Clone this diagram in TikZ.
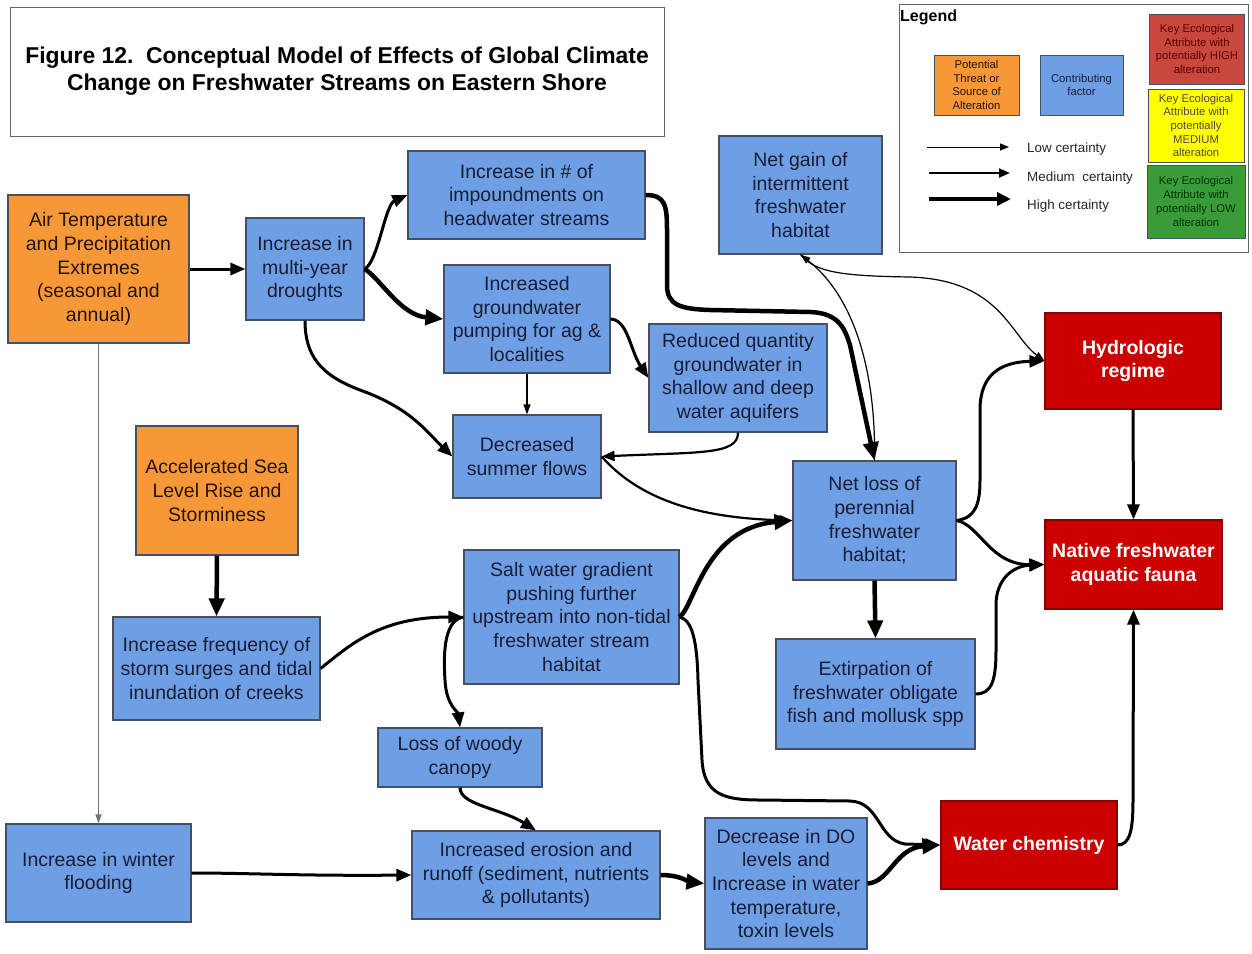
\documentclass[tikz,border=0pt]{standalone}
\usepackage{fontspec}
\setmainfont{Liberation Sans}
\usetikzlibrary{arrows.meta}
\definecolor{orng}{RGB}{247,152,56}
\definecolor{blu}{RGB}{110,158,228}
\definecolor{rd}{RGB}{204,0,0}
\definecolor{lred}{RGB}{200,72,62}
\definecolor{yel}{RGB}{255,255,0}
\definecolor{grn}{RGB}{58,155,58}
\definecolor{bluetext}{RGB}{25,30,55}
\definecolor{edgegray}{RGB}{70,80,95}
\tikzset{
 base/.style={draw=edgegray, line width=1.2pt, align=center, inner sep=0pt, font=\fontsize{19.5}{23.7}\selectfont},
 bluebox/.style={base, fill=blu, text=bluetext},
 orbox/.style={base, fill=orng, text=black!85!orange},
 redbox/.style={base, fill=rd, draw=rd!65!black, text=white, font=\fontsize{19.5}{23.7}\selectfont\bfseries},
 lbox/.style={draw=edgegray, line width=1pt, align=center, inner sep=0pt, font=\fontsize{11.3}{13.7}\selectfont},
 frame/.style={draw=black!60, line width=1pt, inner sep=0pt},
 wlow/.style={draw=black, line width=1.2pt, -{Triangle[length=10pt,width=7pt]}},
 wgray/.style={draw=black!55, line width=1pt, -{Triangle[length=9pt,width=6pt]}},
 wmed/.style={draw=black, line width=2.2pt, -{Triangle[length=13pt,width=10pt]}},
 wmt/.style={draw=black, line width=3pt, -{Triangle[length=15pt,width=12pt]}},
 whigh/.style={draw=black, line width=4.5pt, -{Triangle[length=18pt,width=15pt]}},
 legtext/.style={anchor=west, inner sep=0pt, font=\fontsize{13.4}{15}\selectfont, text=black!85},
}
\begin{document}
\begin{tikzpicture}[x=1pt,y=-1pt]
\useasboundingbox (0,0) rectangle (1252,953);
\fill[white] (0,0) rectangle (1252,953);

% title
\node[frame, minimum width=654pt, minimum height=129pt, align=center,
  font=\fontsize{22.9}{27}\selectfont\bfseries] (title) at (337,71.5)
  {Figure 12.\ \ Conceptual Model of Effects of Global Climate\\Change on Freshwater Streams on Eastern Shore};

% legend
\node[frame, minimum width=349pt, minimum height=248pt] (legend) at (1073.5,128) {};
\node[anchor=west, inner sep=0pt, font=\fontsize{16}{18}\selectfont\bfseries] (legendtitle) at (900,17) {Legend};
\node[lbox, fill=orng, text=black!85!orange, minimum width=85pt, minimum height=60pt] (lorange) at (976.5,85) {Potential\\Threat or\\Source of\\Alteration};
\node[lbox, fill=blu, text=bluetext, minimum width=83pt, minimum height=60pt] (lblue) at (1081.5,85) {Contributing\\factor};
\node[lbox, fill=lred, text=red!35!black, minimum width=95pt, minimum height=70pt] (lred) at (1197,49) {Key Ecological\\Attribute with\\potentially HIGH\\alteration};
\node[lbox, fill=yel, text=black!80!yellow, minimum width=96pt, minimum height=73pt] (lyellow) at (1196,125.5) {Key Ecological\\Attribute with\\potentially\\MEDIUM\\alteration};
\node[lbox, fill=grn, text=green!20!black, minimum width=98pt, minimum height=73pt] (lgreen) at (1196,201.5) {Key Ecological\\Attribute with\\potentially LOW\\alteration};
\coordinate (la1) at (927,147); \coordinate (la2) at (1009,147);
\coordinate (lb1) at (929,173); \coordinate (lb2) at (1010,173);
\coordinate (lc1) at (929,199); \coordinate (lc2) at (1011,199);
\draw[line width=1pt, -{Triangle[length=9pt,width=7pt]}] (la1) -- (la2);
\draw[line width=1.8pt, -{Triangle[length=11pt,width=9pt]}] (lb1) -- (lb2);
\draw[line width=3.5pt, -{Triangle[length=14pt,width=13pt]}] (lc1) -- (lc2);
\node[legtext] (llow) at (1027,149) {Low certainty};
\node[legtext] (lmed) at (1027,178) {Medium\ \ certainty};
\node[legtext] (lhigh) at (1027,206) {High certainty};

% nodes
\node[orbox, minimum width=181pt, minimum height=148pt] (air) at (98.5,269) {Air Temperature\\and Precipitation\\Extremes\\(seasonal and\\annual)};
\node[bluebox, minimum width=118pt, minimum height=102pt] (drought) at (305,269) {Increase in\\multi-year\\droughts};
\node[bluebox, minimum width=237pt, minimum height=88pt] (impound) at (526.5,195) {Increase in \# of\\impoundments on\\headwater streams};
\node[bluebox, minimum width=163pt, minimum height=118pt] (netgain) at (800.5,195) {Net gain of\\intermittent\\freshwater\\habitat};
\node[bluebox, minimum width=166pt, minimum height=108pt] (pump) at (527,319) {Increased\\groundwater\\pumping for ag \&\\localities};
\node[bluebox, minimum width=178pt, minimum height=108pt] (reduced) at (738,378) {Reduced quantity\\groundwater in\\shallow and deep\\water aquifers};
\node[bluebox, minimum width=148pt, minimum height=83pt] (summer) at (527,456.5) {Decreased\\summer flows};
\node[orbox, minimum width=162pt, minimum height=129pt] (sea) at (217,490.5) {Accelerated Sea\\Level Rise and\\Storminess};
\node[redbox, minimum width=176pt, minimum height=96pt] (hydro) at (1133,361) {Hydrologic\\regime};
\node[bluebox, minimum width=163pt, minimum height=119pt] (netloss) at (874.5,520.5) {Net loss of\\perennial\\freshwater\\habitat;};
\node[redbox, minimum width=177pt, minimum height=89pt] (native) at (1133.5,564.5) {Native freshwater\\aquatic fauna};
\node[bluebox, minimum width=215pt, minimum height=134pt] (salt) at (571.5,617) {Salt water gradient\\pushing further\\upstream into non-tidal\\freshwater stream\\habitat};
\node[bluebox, minimum width=207pt, minimum height=103pt] (storm) at (216.5,668.5) {Increase frequency of\\storm surges and tidal\\inundation of creeks};
\node[bluebox, minimum width=199pt, minimum height=110pt] (extirp) at (875.5,694) {Extirpation of\\freshwater obligate\\fish and mollusk spp};
\node[bluebox, minimum width=164pt, minimum height=59pt] (woody) at (460,757.5) {Loss of woody\\canopy};
\node[bluebox, minimum width=185pt, minimum height=98pt] (winter) at (98.5,873) {Increase in winter\\flooding};
\node[bluebox, minimum width=248pt, minimum height=88pt] (erosion) at (536,875) {Increased erosion and\\runoff (sediment, nutrients\\\& pollutants)};
\node[bluebox, minimum width=162pt, minimum height=131pt] (dobox) at (786,883.5) {Decrease in DO\\levels and\\Increase in water\\temperature,\\toxin levels};
\node[redbox, minimum width=176pt, minimum height=88pt] (wchem) at (1029,845) {Water chemistry};

% connectors
\draw[wmt] (air.east) -- (drought.west);
\draw[wmt] (drought.east) .. controls (378,262) and (385,205) .. (impound.west);
\draw[whigh] (drought.east) .. controls (380,278) and (400,315) .. (pump.west);
\draw[wmt] (drought.south) .. controls (305,355) and (320,375) .. (360,390) .. controls (410,408) and (425,430) .. (summer.west);
\draw[whigh] (impound.east) .. controls (665,195) and (667,205) .. (667,230) -- (667,285) .. controls (667,305) and (680,309) .. (710,310) -- (810,312) .. controls (840,313) and (845,330) .. (850,345) -- (netloss.north);
\draw[wlow] (netloss.north) .. controls (876,380) and (858,300) .. (netgain.south);
\draw[wlow] (netgain.south) .. controls (815,272) and (840,276) .. (910,277) .. controls (1000,280) and (1010,335) .. (hydro.west);
\draw[wmt] (pump.east) .. controls (628,320) and (630,350) .. (reduced.west);
\draw[wlow] (pump.south) -- (summer.north);
\draw[wmed] (reduced.south) .. controls (738,455) and (700,452) .. (summer.east);
\draw[wmed] (summer.east) .. controls (640,500) and (700,518) .. (netloss.west);
\draw[whigh] (salt.east) .. controls (695,605) and (705,528) .. (netloss.west);
\draw[wmt] (salt.east) .. controls (692,620) and (697,640) .. (698,680) -- (702,760) .. controls (704,795) and (725,800) .. (760,800) -- (850,801) .. controls (880,802) and (878,840) .. (905,844) -- (wchem.west);
\draw[wmt] (netloss.east) .. controls (975,518) and (980,505) .. (980,480) -- (980,410) .. controls (980,375) and (1000,362) .. (hydro.west);
\draw[wmt] (netloss.east) .. controls (980,525) and (990,565) .. (native.west);
\draw[whigh] (netloss.south) -- (extirp.north);
\draw[wmt] (extirp.east) .. controls (992,694) and (996,680) .. (996,650) -- (996,605) .. controls (996,580) and (1012,566) .. (native.west);
\draw[wmt] (hydro.south) -- (native.north);
\draw[wmt] (wchem.east) .. controls (1130,845) and (1133,830) .. (1133,800) -- (native.south);
\draw[whigh] (sea.south) -- (storm.north);
\draw[wmt] (storm.east) .. controls (350,645) and (380,617) .. (salt.west);
\draw[wmt] (salt.west) .. controls (445,620) and (443,650) .. (445,680) .. controls (446,705) and (458,712) .. (woody.north);
\draw[wmt] (woody.south) .. controls (460,805) and (500,808) .. (erosion.north);
\draw[wgray] (air.south) -- (winter.north);
\draw[wmt] (winter.east) .. controls (250,873) and (300,876) .. (erosion.west);
\draw[whigh] (erosion.east) .. controls (680,875) and (690,882) .. (dobox.west);
\draw[whigh] (dobox.east) .. controls (890,882) and (895,848) .. (wchem.west);
\end{tikzpicture}
\end{document}
